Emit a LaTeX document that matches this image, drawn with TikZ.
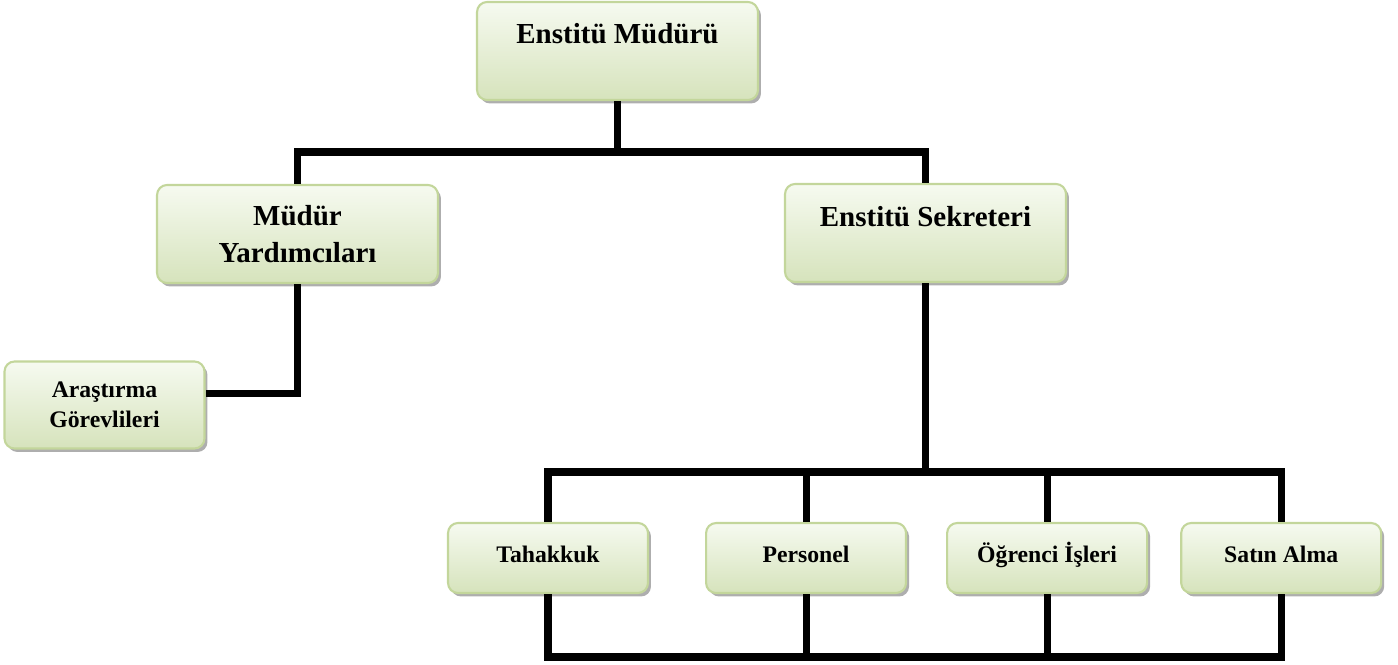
\documentclass[tikz,border=0pt]{standalone}
\usepackage{fontspec}
\setmainfont{Liberation Serif}
\usetikzlibrary{positioning, shadows}
\definecolor{boxtop}{RGB}{246,250,240}
\definecolor{boxbot}{RGB}{214,227,188}
\definecolor{boxline}{RGB}{195,214,155}

\begin{document}
\begin{tikzpicture}[
    x=0.02cm, y=-0.02cm,
    unit/.style={rectangle, rounded corners=0.2cm, draw=boxline, line width=1.2pt, top color=boxtop, bottom color=boxbot, drop shadow={shadow xshift=0.6mm, shadow yshift=-0.7mm, fill=black!45, opacity=0.7}, align=center, inner sep=0pt},
    head/.style={unit, minimum width=5.62cm, minimum height=1.96cm, font=\fontsize{16.5}{21}\selectfont\bfseries},
    toptext/.style={text height=0.84cm, text depth=1.12cm},
    office/.style={unit, minimum width=4cm, minimum height=1.4cm, font=\fontsize{13.5}{17}\selectfont\bfseries},
    oneline/.style={text height=7.8pt, text depth=3.2pt},
    link/.style={line width=4pt, line join=miter}
]
\useasboundingbox (0,0) rectangle (1398,665);

\node[head, toptext] (mud) at (617.5,51) {Enstitü Müdürü};
\node[head] (myrd) at (297.5,234) {Müdür\\Yardımcıları};
\node[head, toptext] (sek) at (925.5,233) {Enstitü Sekreteri};
\node[office, minimum height=1.74cm] (arg) at (104.5,405) {Araştırma\\Görevlileri};

\node[office, oneline] (tah) at (548,558) {Tahakkuk};
\node[office, oneline, right=1.12cm of tah] (per) {Personel};
\node[office, oneline, right=0.78cm of per] (ogr) {Öğrenci İşleri};
\node[office, oneline, right=0.64cm of ogr] (sat) {Satın Alma};

\coordinate (fork) at (mud.south |- 0,152);
\coordinate (bus) at (sek.south |- 0,472);
\coordinate (base) at (sek.south |- 0,657);

% upper levels
\draw[link] (mud.south) -- (fork);
\draw[link] (myrd.north) |- (fork) -| (sek.north);
\draw[link] (myrd.south) |- ([yshift=2.3mm]arg.east);
\draw[link] (sek.south) -- (bus);

% offices
\draw[link] (tah.north) |- (bus) -| (sat.north);
\draw[link] (per.north) -- (per.north |- bus);
\draw[link] (ogr.north) -- (ogr.north |- bus);
\draw[link] (tah.south) |- (base) -| (sat.south);
\draw[link] (per.south) -- (per.south |- base);
\draw[link] (ogr.south) -- (ogr.south |- base);

\end{tikzpicture}
\end{document}
